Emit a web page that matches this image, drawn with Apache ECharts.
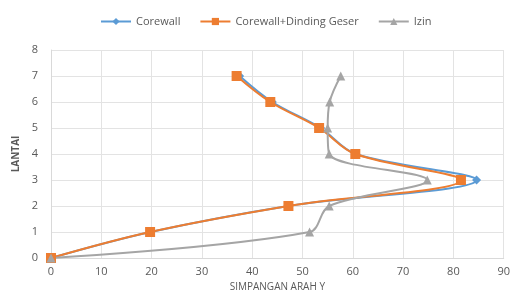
<!DOCTYPE html>
<html>
<head>
<meta charset="utf-8">
<script src="https://cdn.jsdelivr.net/npm/echarts@6/dist/echarts.min.js"></script>
<style>
  html, body { margin: 0; padding: 0; background: #fff; }
  #chart { width: 513px; height: 302px; }
</style>
</head>
<body>
<div id="chart"></div>
<script>
// lantai (floor)
const floors = [0, 1, 2, 3, 4, 5, 6, 7]
// simpangan arah Y per lantai
const corewall = [0, 19.8, 47.2, 84.6, 60.6, 53.6, 44.0, 37.5]
const corewallDinding = [0, 19.7, 47.2, 81.5, 60.5, 53.3, 43.6, 36.9]
const izin = [0, 51.4, 55.3, 74.8, 55.3, 55.0, 55.4, 57.6]
const xTicks = [0, 10, 20, 30, 40, 50, 60, 70, 80, 90]

function pairs(vals) {
  return vals.map((v, i) => [v, floors[i]])
}

(function () {
  let myChart = echarts.init(document.getElementById('chart'))
  const labelColor = '#595959'
  let option = {
    animation: false,
    textStyle: { fontFamily: 'Open Sans, Liberation Sans, sans-serif' },
    color: ['#5B9BD5', '#ED7D31', '#A5A5A5'],
    legend: {
      top: 11,
      left: 95,
      itemWidth: 30,
      itemHeight: 9,
      itemGap: 19,
      textStyle: { color: labelColor, fontSize: 11 }
    },
    grid: {
      left: 51,
      right: 6,
      top: 50,
      bottom: 44
    },
    xAxis: {
      type: 'value',
      min: xTicks[0],
      max: xTicks[xTicks.length - 1],
      interval: 10,
      name: 'SIMPANGAN ARAH Y',
      nameLocation: 'middle',
      nameGap: 24,
      nameTextStyle: { color: labelColor, fontSize: 10 },
      axisLine: { show: true, lineStyle: { color: '#D9D9D9' } },
      axisTick: { show: false },
      axisLabel: { color: labelColor, fontSize: 11, margin: 8 },
      splitLine: { lineStyle: { color: '#E3E3E3' } }
    },
    yAxis: {
      type: 'value',
      min: 0,
      max: 8,
      interval: 1,
      name: 'LANTAI',
      nameLocation: 'middle',
      nameGap: 29,
      nameTextStyle: { color: labelColor, fontSize: 10, fontWeight: 'bold' },
      axisLine: { show: true, lineStyle: { color: '#D9D9D9' } },
      axisTick: { show: false },
      axisLabel: { color: labelColor, fontSize: 11, margin: 13 },
      splitLine: { lineStyle: { color: '#E3E3E3' } }
    },
    series: [
      {
        name: 'Corewall',
        type: 'line',
        smooth: 0.35,
        symbol: 'diamond',
        symbolSize: 9,
        lineStyle: { width: 2 },
        data: pairs(corewall)
      },
      {
        name: 'Corewall+Dinding Geser',
        type: 'line',
        smooth: 0.35,
        symbol: 'rect',
        symbolSize: 10,
        lineStyle: { width: 2 },
        data: pairs(corewallDinding)
      },
      {
        name: 'Izin',
        type: 'line',
        smooth: 0.35,
        symbol: 'triangle',
        symbolSize: 9,
        lineStyle: { width: 2 },
        data: pairs(izin)
      }
    ]
  }
  myChart.setOption(option)
})();
</script>
</body>
</html>
